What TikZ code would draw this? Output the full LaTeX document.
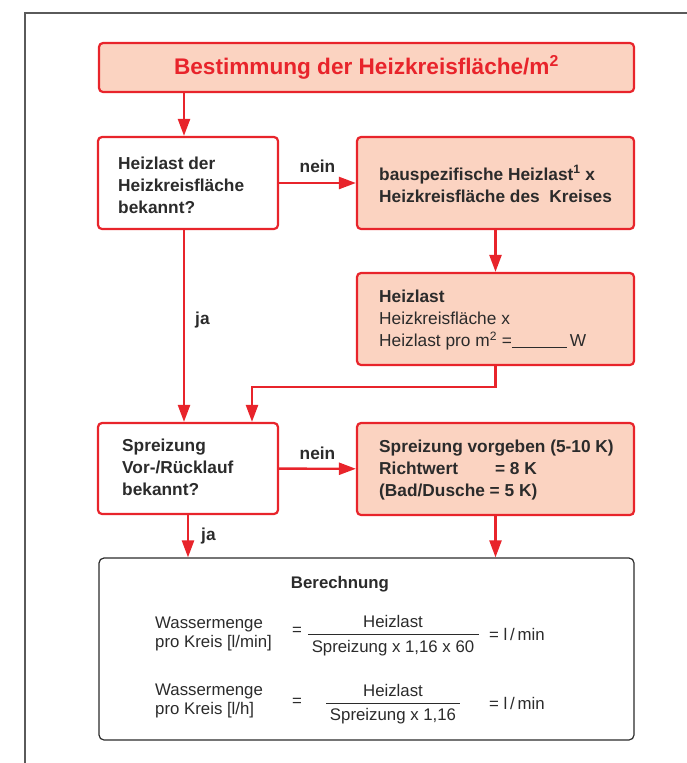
\documentclass[tikz,border=0pt]{standalone}
\usepackage{fontspec}
\setmainfont{Liberation Sans}
\usetikzlibrary{arrows.meta}
\definecolor{rd}{HTML}{E8242B}
\definecolor{peach}{HTML}{FBD3C1}
\definecolor{ink}{HTML}{2B2B2B}
\definecolor{frame}{HTML}{5A5A5A}
\tikzset{
  box/.style={draw=rd, line width=2.2pt, rounded corners=4pt},
  decide/.style={box, fill=white, minimum width=180pt, minimum height=92pt},
  action/.style={box, fill=peach, minimum width=277pt, minimum height=92pt},
  boxtxt/.style={anchor=west, align=left, inner sep=0pt, text=ink,
    font=\fontsize{17.3}{22}\selectfont\bfseries},
  arr/.style={draw=rd, line width=2.4pt, -{Triangle[length=17pt,width=12pt]}},
  lbl/.style={text=ink, font=\fontsize{17.3}{20}\selectfont\bfseries, inner sep=0pt},
  calctxt/.style={text=ink, font=\fontsize{16.8}{19.5}\selectfont, inner sep=0pt},
}
\begin{document}
\begin{tikzpicture}[x=1pt,y=-1pt]
\useasboundingbox (0,0) rectangle (687,763);
% frame
\draw[frame, line width=1.3pt] (25,763) -- (25,13) -- (687,13);
% title
\node[box, fill=peach, minimum width=535pt, minimum height=49pt, text=rd,
      font=\fontsize{22.6}{24}\selectfont\bfseries] (title) at (366.5,67.5)
  {Bestimmung der Heizkreisfläche/m\textsuperscript{2}};
% boxes
\node[decide] (box1) at (188,183) {};
\node[boxtxt] (t1) at (118,185) {Heizlast der\\Heizkreisfläche\\bekannt?};
\node[action] (box2) at (495.5,183) {};
\node[boxtxt] (t2) at (379,184)
  {bauspezifische Heizlast\textsuperscript{1} x\\Heizkreisfläche des\ \ Kreises};
\node[action] (box3) at (495.5,319) {};
\node[boxtxt] (t3) at (379,320)
  {Heizlast\\\mdseries Heizkreisfläche x\\\mdseries Heizlast pro m\textsuperscript{2} =\rule[-1.5pt]{55pt}{1pt}\,W};
\node[decide, minimum height=91pt] (box4) at (188,468.5) {};
\node[boxtxt] (t4) at (122,467) {Spreizung\\Vor-/Rücklauf\\bekannt?};
\node[action] (box5) at (495.5,469) {};
\node[boxtxt] (t5) at (379,470)
  {Spreizung vorgeben (5-10 K)\\Richtwert\hspace{37pt}= 8 K\\(Bad/Dusche = 5 K)};
% calculation box
\node[draw=ink, line width=1.2pt, rounded corners=5pt, fill=white,
      minimum width=535pt, minimum height=182pt] (calc) at (366.5,649) {};
\node[calctxt, font=\fontsize{16.8}{19}\selectfont\bfseries] (berech) at (340,584) {Berechnung};
\node[calctxt, anchor=west, align=left] (w1) at (155,634) {Wassermenge\\pro Kreis [l/min]};
\node[calctxt] (eq1) at (297,631) {=};
\node[calctxt] (f1n) at (393,621) {Heizlast};
\node[calctxt] (f1d) at (393,648) {Spreizung x 1,16 x 60};
\coordinate (f1l) at (308,634);
\coordinate (f1r) at (479,634);
\draw[ink, line width=1pt] (f1l) -- (f1r);
\node[calctxt, anchor=west] (r1) at (489,634) {= l\,/\,min};
\node[calctxt, anchor=west, align=left] (w2) at (155,701) {Wassermenge\\pro Kreis [l/h]};
\node[calctxt] (eq2) at (297,702) {=};
\node[calctxt] (f2n) at (393,690) {Heizlast};
\node[calctxt] (f2d) at (393,716) {Spreizung x 1,16};
\coordinate (f2l) at (326,703);
\coordinate (f2r) at (460,703);
\draw[ink, line width=1pt] (f2l) -- (f2r);
\node[calctxt, anchor=west] (r2) at (489,703) {= l\,/\,min};
% connectors
\coordinate (xa) at (184,0);
\coordinate (j2) at (252,387);
\draw[arr] (title.south -| xa) -- (box1.north -| xa);
\draw[arr] (box1) -- (box2) node[lbl, midway, above=9pt] (n1) {nein};
\draw[arr] (box2) -- (box3);
\draw[arr] (box3.south) |- (j2) -- (box4.north -| j2);
\draw[arr] (box1.south -| xa) -- (box4.north -| xa) node[lbl, pos=0.47, right=10pt] (ja1) {ja};
\draw[arr] (box4) -- (box5) node[lbl, midway, above=8pt] (n2) {nein};
\draw[arr] (box4.south) -- (box4.south |- calc.north) node[lbl, midway, right=12pt] (ja2) {ja};
\draw[arr] (box5.south) -- (box5.south |- calc.north);
\end{tikzpicture}
\end{document}
